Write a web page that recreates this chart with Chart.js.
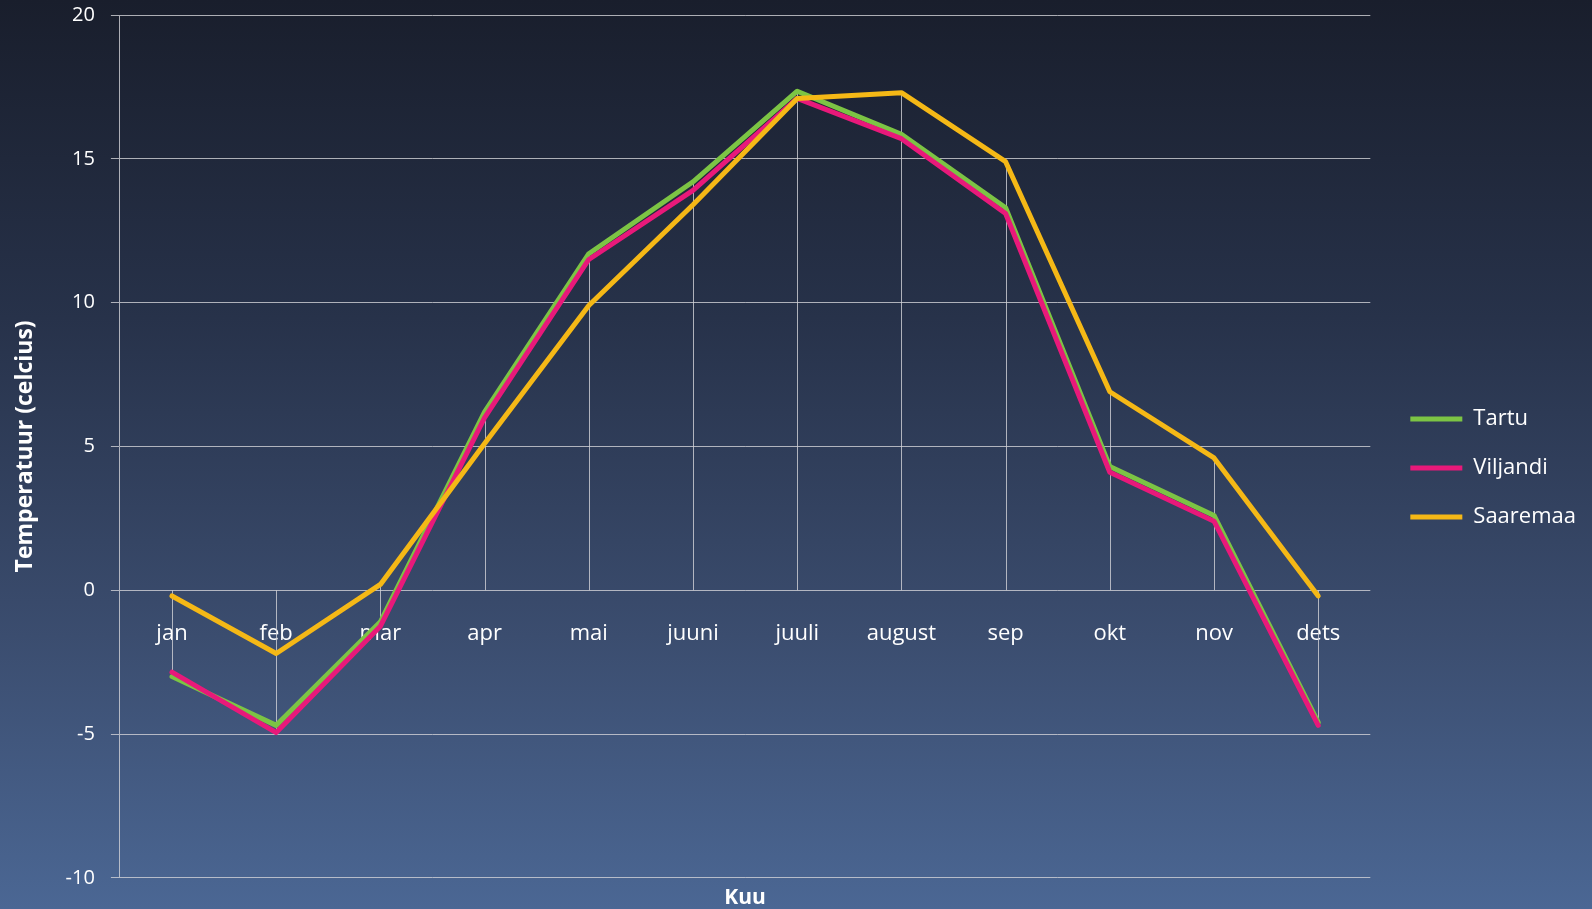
<!DOCTYPE html>
<html>
<head>
<meta charset="utf-8">
<script src="https://cdn.jsdelivr.net/npm/chart.js@4.4.0/dist/chart.umd.min.js"></script>
<style>
  html, body { margin: 0; padding: 0; }
  body {
    width: 1592px; height: 909px; overflow: hidden;
    background: linear-gradient(to bottom, #191e2c 0%, #27324a 35%, #3b4d6f 70%, #4b6794 100%);
  }
  #wrap { position: relative; width: 1592px; height: 909px; }
</style>
</head>
<body>
<div id="wrap"><canvas id="temp-chart" width="1592" height="909"></canvas></div>
<script>
const months = ['jan', 'feb', 'mar', 'apr', 'mai', 'juuni', 'juuli', 'august', 'sep', 'okt', 'nov', 'dets'];
const tartu = [-3.0, -4.7, -1.1, 6.2, 11.7, 14.2, 17.35, 15.85, 13.3, 4.3, 2.6, -4.6];
const viljandi = [-2.85, -4.95, -1.25, 6.0, 11.5, 13.9, 17.1, 15.7, 13.1, 4.1, 2.4, -4.7];
const saaremaa = [-0.2, -2.2, 0.2, 5.1, 9.9, 13.4, 17.1, 17.3, 14.9, 6.9, 4.6, -0.2];
const yTicks = [-10, -5, 0, 5, 10, 15, 20];

const gridCol = 'rgba(210,210,215,0.8)';
const fontFam = '"Open Sans", Lato, sans-serif';

// vertical lines from each month's points to the zero line
const dropLines = {
  id: 'dropLines',
  beforeDatasetsDraw(chart) {
    const ctx = chart.ctx;
    const xs = chart.scales.x, ys = chart.scales.y;
    ctx.save();
    ctx.strokeStyle = gridCol;
    ctx.lineWidth = 1;
    months.forEach((m, i) => {
      const vals = chart.data.datasets.map(d => d.data[i]).concat([0]);
      const x = Math.round(xs.getPixelForValue(i)) + 0.5;
      ctx.beginPath();
      ctx.moveTo(x, ys.getPixelForValue(Math.max(...vals)));
      ctx.lineTo(x, ys.getPixelForValue(Math.min(...vals)));
      ctx.stroke();
    });
    ctx.restore();
  }
};

new Chart(document.getElementById('temp-chart'), {
  type: 'line',
  data: {
    labels: months,
    datasets: [
      { label: 'Tartu', data: tartu, borderColor: '#7cc444', backgroundColor: '#7cc444', borderWidth: 5, order: 3 },
      { label: 'Viljandi', data: viljandi, borderColor: '#e8197a', backgroundColor: '#e8197a', borderWidth: 5, order: 2 },
      { label: 'Saaremaa', data: saaremaa, borderColor: '#f5b816', backgroundColor: '#f5b816', borderWidth: 5, order: 1 }
    ]
  },
  plugins: [dropLines],
  options: {
    responsive: false,
    animation: false,
    layout: { autoPadding: false, padding: { top: 15, right: 6, left: 12, bottom: 0 } },
    elements: {
      line: { tension: 0, borderJoinStyle: 'round', borderCapStyle: 'round' },
      point: { radius: 0 }
    },
    plugins: {
      tooltip: { enabled: false },
      legend: {
        position: 'right',
        title: { display: true, text: ' ', font: { size: 10 }, padding: 0 },
        labels: {
          color: '#ffffff',
          font: { family: fontFam, size: 22 },
          usePointStyle: true,
          pointStyle: 'line',
          pointStyleWidth: 52,
          padding: 27,
          sort: (a, b) => a.datasetIndex - b.datasetIndex
        }
      }
    },
    scales: {
      x: {
        type: 'category',
        position: { y: 0 },
        offset: true,
        grid: { display: false, drawTicks: false },
        border: { display: false },
        ticks: { color: '#ffffff', font: { family: fontFam, size: 22 }, padding: 30, maxRotation: 0 }
      },
      x2: {
        type: 'category',
        labels: months,
        position: 'bottom',
        grid: { display: false, drawTicks: false },
        border: { display: false },
        ticks: { display: false },
        title: { display: true, text: 'Kuu', color: '#ffffff', font: { family: fontFam, size: 21, weight: 'bold' }, padding: { top: 8, bottom: -2 } }
      },
      y: {
        min: -10,
        max: 20,
        afterBuildTicks: (s) => { s.ticks = yTicks.map(v => ({ value: v })); },
        afterFit: (s) => { s.paddingTop = 0; s.paddingBottom = 0; },
        grid: { color: gridCol, lineWidth: 1, tickLength: 9 },
        border: { display: true, color: gridCol },
        ticks: { color: '#ffffff', font: { family: fontFam, size: 20 }, padding: 16 },
        title: { display: true, text: 'Temperatuur (celcius)', color: '#ffffff', font: { family: fontFam, size: 23, weight: 'bold' }, padding: { top: 0, bottom: 10 } }
      },
      // empty spacer between plot and legend
      ySpacer: {
        type: 'linear',
        position: 'right',
        min: 0,
        max: 1,
        grid: { display: false, drawTicks: false },
        border: { display: false },
        ticks: { display: false },
        afterFit: (s) => { s.width = 13; }
      }
    }
  }
});
</script>
</body>
</html>
